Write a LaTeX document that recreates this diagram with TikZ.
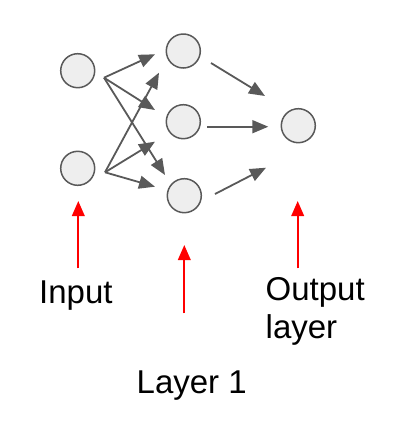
\documentclass[tikz,border=0pt]{standalone}
\usepackage{fontspec}
\setmainfont{Liberation Sans}
\usetikzlibrary{arrows.meta,calc}
\definecolor{edge}{HTML}{595959}
\definecolor{cellfill}{HTML}{EEEEEE}
\definecolor{pointred}{HTML}{FF0000}
\tikzset{
  neuron/.style={circle,draw=edge,fill=cellfill,line width=1.5pt,minimum size=34pt,inner sep=0pt},
  conn/.style={draw=edge,line width=1.8pt,-{Triangle[length=16pt,width=13pt]}},
  pointer/.style={draw=pointred,line width=2pt,-{Triangle[length=15pt,width=12.5pt]}},
  lbl/.style={inner sep=0pt,font=\fontsize{33}{38}\selectfont}
}
\begin{document}
\begin{tikzpicture}[x=1pt,y=-1pt]
\useasboundingbox (0,0) rectangle (406,448);
% nodes
\node[neuron] (in1) at (77.7,70.7) {};
\node[neuron] (in2) at (77.7,168.3) {};
\node[neuron] (h1) at (183.3,51) {};
\node[neuron] (h2) at (183.3,121.7) {};
\node[neuron] (h3) at (184.3,195.7) {};
\node[neuron] (out) at (298.3,125.7) {};
% connector ends
\coordinate (s1) at ($(in1)+(26.3,7)$);
\coordinate (s2) at ($(in2)+(27.3,4)$);
\coordinate (e11) at (155,54.3);
\coordinate (e12) at (155,110);
\coordinate (e13) at (165,175);
\coordinate (e21) at (159,72.7);
\coordinate (e22) at (155,141.7);
\coordinate (e23) at (155,186.7);
\coordinate (o1s) at (211,63);
\coordinate (o1e) at (265,96);
\coordinate (o2s) at (207.3,126.7);
\coordinate (o2e) at (268.3,126.7);
\coordinate (o3s) at (215,194);
\coordinate (o3e) at (266,167.7);
% connectors
\draw[conn] (s1) -- (e11);
\draw[conn] (s1) -- (e12);
\draw[conn] (s1) -- (e13);
\draw[conn] (s2) -- (e21);
\draw[conn] (s2) -- (e22);
\draw[conn] (s2) -- (e23);
\draw[conn] (o1s) -- (o1e);
\draw[conn] (o2s) -- (o2e);
\draw[conn] (o3s) -- (o3e);
% labels
\node[lbl,anchor=base west] (linput) at (39,303) {Input};
\node[lbl,anchor=base] (llayer) at (191.7,393.3) {Layer 1};
\node[lbl,anchor=north west,align=left] (lout) at (265.5,277.5) {Output\\layer};
% pointers
\coordinate (p1s) at (78.3,268.3);
\coordinate (p1e) at (78.3,201);
\coordinate (p2s) at (184.3,313.3);
\coordinate (p2e) at (184.3,245);
\coordinate (p3s) at (297.7,268.3);
\coordinate (p3e) at (297.7,201);
\draw[pointer] (p1s) -- (p1e);
\draw[pointer] (p2s) -- (p2e);
\draw[pointer] (p3s) -- (p3e);
\end{tikzpicture}
\end{document}
